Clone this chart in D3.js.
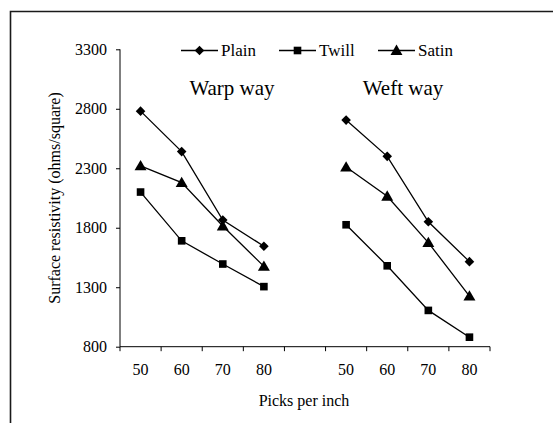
<!DOCTYPE html>
<html>
<head>
<meta charset="utf-8">
<script src="https://cdn.jsdelivr.net/npm/d3@7"></script>
<style>
  html, body { margin: 0; padding: 0; background: #fff; }
</style>
</head>
<body>
<svg id="chart" width="553" height="423" font-family="'Liberation Serif', 'Times New Roman', 'DejaVu Serif', serif"></svg>
<script>
// ---- Data ----
const picks = ["50", "60", "70", "80"];
const groups = ["Warp way", "Weft way"];
const seriesNames = ["Plain", "Twill", "Satin"];
const warpPlain = [2780, 2440, 1865, 1645];
const warpTwill = [2100, 1690, 1495, 1305];
const warpSatin = [2320, 2180, 1815, 1475];
const weftPlain = [2705, 2400, 1850, 1515];
const weftTwill = [1825, 1480, 1105, 880];
const weftSatin = [2310, 2065, 1675, 1225];
const yTicks = [800, 1300, 1800, 2300, 2800, 3300];

// ---- Layout ----
const FONT = "'Liberation Serif', 'Times New Roman', 'DejaVu Serif', serif";
const svg = d3.select("#chart");
const plotLeft = 120, plotRight = 490, plotTop = 49.3, plotBottom = 346.7;

const cats = picks.map(p => "w" + p).concat(["gap"]).concat(picks.map(p => "f" + p));
const x = d3.scaleBand().domain(cats).range([plotLeft, plotRight]).padding(0);
const y = d3.scaleLinear().domain([800, 3300]).range([plotBottom, plotTop]);

// border
svg.append("path")
  .attr("d", `M10.5,${423 + 5} L10.5,11.5 L${553 + 5},11.5`)
  .attr("fill", "none").attr("stroke", "#1a1a1a").attr("stroke-width", 1.6);

// Y axis
const yAxis = svg.append("g").attr("transform", `translate(${plotLeft},0)`)
  .call(d3.axisLeft(y).tickValues(yTicks).tickSize(4).tickPadding(9).tickFormat(d3.format("d")));
yAxis.attr("font-family", FONT);
yAxis.select(".domain").attr("stroke", "#000").attr("d", `M0,${plotTop}V${plotBottom}`);
yAxis.selectAll(".tick line").attr("stroke", "#000");
yAxis.selectAll("text").style("font-size", "16px").style("font-family", FONT).attr("fill", "#000");

// X axis: ticks at band boundaries
const xg = svg.append("g").attr("transform", `translate(0,${plotBottom})`);
xg.append("line").attr("x1", plotLeft).attr("x2", plotRight).attr("y1", 0).attr("y2", 0).attr("stroke", "#000");
const bounds = cats.map(c => x(c)).concat([plotRight]);
xg.selectAll(".xt").data(bounds).enter().append("line")
  .attr("x1", d => d).attr("x2", d => d).attr("y1", 0).attr("y2", 4.5).attr("stroke", "#000");
xg.selectAll(".xl").data(cats.filter(c => c !== "gap")).enter().append("text")
  .attr("x", d => x(d) + x.bandwidth() / 2)
  .attr("y", 28)
  .attr("text-anchor", "middle")
  .style("font-size", "16px").style("font-family", FONT)
  .text(d => d.slice(1));

// Axis titles
svg.append("text")
  .attr("transform", `translate(60,198) rotate(-90)`)
  .attr("text-anchor", "middle")
  .style("font-size", "16px").style("font-family", FONT)
  .text("Surface resistivity (ohms/square)");
svg.append("text")
  .attr("x", 304).attr("y", 406)
  .attr("text-anchor", "middle")
  .style("font-size", "16px").style("font-family", FONT)
  .text("Picks per inch");

// Panel titles
const titleX = [232, 403];
groups.forEach((g, i) => {
  svg.append("text").attr("x", titleX[i]).attr("y", 94.5)
    .attr("text-anchor", "middle").style("font-size", "21px").style("font-family", FONT).text(g);
});

// Series
const symbols = [d3.symbolSquare, d3.symbolSquare, d3.symbolTriangle];
const symSizes = [46, 58, 62];
const symRot = [45, 0, 0];
const symDy = [0, 0, 1];
const warpData = [warpPlain, warpTwill, warpSatin];
const weftData = [weftPlain, weftTwill, weftSatin];
const line = d3.line().x(d => d[0]).y(d => d[1]);

function marker(sel, si) {
  sel.attr("d", d3.symbol().type(symbols[si]).size(symSizes[si])).attr("fill", "#000");
}

function drawSeries(values, prefix, si) {
  const pts = values.map((v, i) => [x(prefix + picks[i]) + x.bandwidth() / 2, y(v)]);
  svg.append("path").attr("d", line(pts)).attr("fill", "none")
    .attr("stroke", "#000").attr("stroke-width", 1.3);
  svg.selectAll(null).data(pts).enter().append("path")
    .attr("transform", d => `translate(${d[0]},${d[1] + symDy[si]}) rotate(${symRot[si]})`)
    .call(marker, si);
}
warpData.forEach((vals, si) => drawSeries(vals, "w", si));
weftData.forEach((vals, si) => drawSeries(vals, "f", si));

// Legend
const legX = [181, 279, 378];
const legY = 50.5;
seriesNames.forEach((name, si) => {
  const g = svg.append("g");
  g.append("line").attr("x1", legX[si]).attr("x2", legX[si] + 37)
    .attr("y1", legY).attr("y2", legY).attr("stroke", "#000").attr("stroke-width", 1.3);
  g.append("path")
    .attr("transform", `translate(${legX[si] + 18.5},${legY + symDy[si]}) rotate(${symRot[si]})`)
    .call(marker, si);
  g.append("text").attr("x", legX[si] + 40).attr("y", legY + 5.5)
    .style("font-size", "17px").style("font-family", FONT).text(name);
});
</script>
</body>
</html>
